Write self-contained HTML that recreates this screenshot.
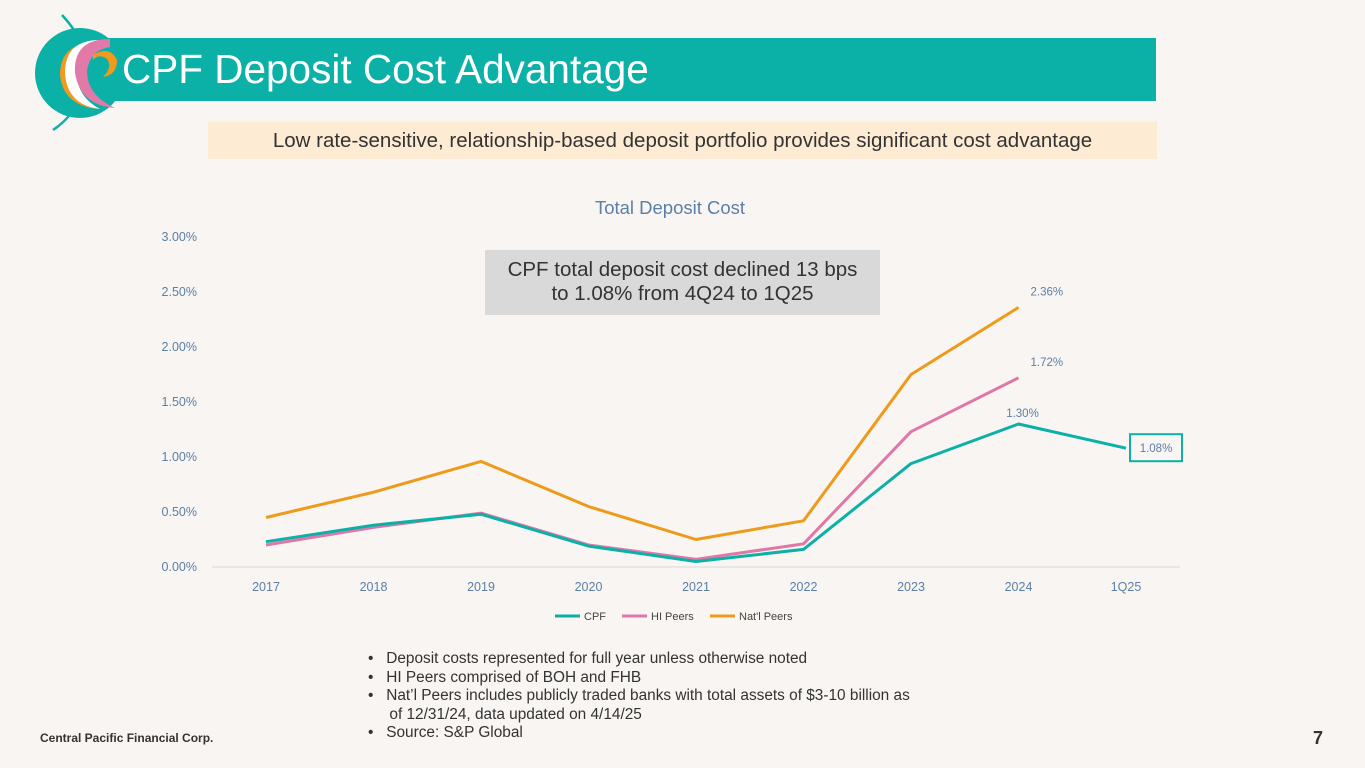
<!DOCTYPE html>
<html><head><meta charset="utf-8"><style>
body{margin:0;width:1365px;height:768px;background:#F8F5F2;font-family:"Liberation Sans",sans-serif;position:relative;overflow:hidden}
.abs{position:absolute}
</style></head><body>
<div class="abs" style="left:70px;top:38px;width:1086px;height:63px;background:#0BB0A7"></div>
<svg class="abs" style="left:25px;top:5px" width="110" height="130" viewBox="0 0 110 130">
<path d="M37 10 Q60 35 55 50" stroke="#0BB0A7" stroke-width="2.5" fill="none"/>
<path d="M55 90 Q50 110 28 125" stroke="#0BB0A7" stroke-width="2.5" fill="none"/>
<circle cx="55" cy="68" r="45" fill="#0BB0A7"/>
<path d="M70 38 Q35 38 35 70 Q38 100 72 104 Q45 95 45 70 Q47 45 70 38Z" fill="#F29A1E"/>
<path d="M75 35 Q40 35 40 68 Q42 100 75 104 Q52 92 52 68 Q55 42 75 35Z" fill="#fff"/>
<path d="M85 34 Q48 34 50 68 Q55 100 90 103 Q62 90 62 66 Q65 45 85 42Z" fill="#E17AA8"/>
<path d="M68 50 Q85 40 92 55 Q92 70 78 72 Q88 62 82 54 Q74 48 68 55Z" fill="#F29A1E"/>
<circle cx="72" cy="60" r="6" fill="#0BB0A7"/>
</svg>
<div class="abs" style="left:122px;top:44px;font-size:40.5px;color:#fff;line-height:50px">CPF Deposit Cost Advantage</div>
<div class="abs" style="left:208px;top:122px;width:949px;height:37px;background:#FDEBD3;color:#333;font-size:20.5px;line-height:37px;text-align:center;white-space:nowrap">Low rate-sensitive, relationship-based deposit portfolio provides significant cost advantage</div>
<svg class="abs" style="left:0;top:0" width="1365" height="768" id="chart"></svg>
<div class="abs" style="left:485px;top:250px;width:395px;height:65px;background:#D9D9D9;color:#333;font-size:20.5px;text-align:center;line-height:24px;padding-top:8px;box-sizing:border-box;white-space:nowrap">CPF total deposit cost declined 13 bps<br>to 1.08% from 4Q24 to 1Q25</div>
<div class="abs" style="left:368px;top:650px;font-size:15.4px;color:#333;line-height:18.6px;white-space:nowrap">
<div>•&nbsp;&nbsp; Deposit costs represented for full year unless otherwise noted</div>
<div>•&nbsp;&nbsp; HI Peers comprised of BOH and FHB</div>
<div>•&nbsp;&nbsp; Nat’l Peers includes publicly traded banks with total assets of $3-10 billion as<br>&nbsp;&nbsp;&nbsp;&nbsp; of 12/31/24, data updated on 4/14/25</div>
<div>•&nbsp;&nbsp; Source: S&amp;P Global</div></div>
<div class="abs" style="left:40px;top:731px;font-size:12px;font-weight:bold;color:#333">Central Pacific Financial Corp.</div>
<div class="abs" style="left:1313px;top:728px;font-size:18px;font-weight:bold;color:#333">7</div>
<script>
const categories=["2017","2018","2019","2020","2021","2022","2023","2024","1Q25"];
const cpf=[0.23,0.38,0.48,0.19,0.05,0.16,0.94,1.30,1.08];
const hiPeers=[0.20,0.36,0.49,0.20,0.07,0.21,1.23,1.72,null];
const natPeers=[0.45,0.68,0.96,0.55,0.25,0.42,1.75,2.36,null];
const yTicks=[0,0.5,1,1.5,2,2.5,3];
const NS="http://www.w3.org/2000/svg",svg=document.getElementById('chart');
const x=i=>266+i*107.5, y=v=>567-v*110;
function mk(t,a,p){const e=document.createElementNS(NS,t);for(const k in a)e.setAttribute(k,a[k]);(p||svg).appendChild(e);return e;}
const tc="#5B7FA6";
const tt=mk('text',{x:670,y:214,'text-anchor':'middle','font-size':18.5,fill:tc});tt.textContent="Total Deposit Cost";


const ax=mk('line',{x1:212,x2:1180,y1:567,y2:567,stroke:'#D9D9D9','stroke-width':1});


yTicks.forEach(v=>{const t=mk('text',{x:197,y:y(v)+4,'text-anchor':'end','font-size':12.5,fill:tc});t.textContent=v.toFixed(2)+"%";

});
categories.forEach((c,i)=>{const t=mk('text',{x:x(i),y:591,'text-anchor':'middle','font-size':12.5,fill:tc});t.textContent=c;

});
function series(d,col,name){let p="";d.forEach((v,i)=>{if(v==null)return;p+=(p?"L":"M")+x(i)+" "+y(v);});
const l=mk('path',{d:p,fill:'none',stroke:col,'stroke-width':3,'stroke-linejoin':'round'});

}
series(natPeers,'#EE9A1A','natl-peers');series(hiPeers,'#DE78A8','hi-peers');series(cpf,'#0BB0A7','cpf');
function lab(v,i,name){const t=mk('text',{x:x(i)+12,y:y(v)-12,'font-size':11.5,fill:tc});t.textContent=v.toFixed(2)+"%";

}
lab(natPeers[7],7,'natl-peers');lab(hiPeers[7],7,'hi-peers');
const t4=mk('text',{x:x(7)+4,y:y(cpf[7])-7,'font-size':11.5,fill:tc,'text-anchor':'middle'});t4.textContent=cpf[7].toFixed(2)+"%";


const b=mk('rect',{x:x(8)+4,y:y(cpf[8])-14,width:52,height:27,fill:'#F8F5F2',stroke:'#0BB0A7','stroke-width':2});


const t5=mk('text',{x:x(8)+30,y:y(cpf[8])+4,'font-size':11.5,fill:tc,'text-anchor':'middle'});t5.textContent=cpf[8].toFixed(2)+"%";


[["CPF",555,'#0BB0A7'],["HI Peers",622,'#DE78A8'],["Nat'l Peers",710,'#EE9A1A']].forEach(([n,lx,c])=>{
const g=mk('g',{});


mk('line',{x1:lx,x2:lx+25,y1:616,y2:616,stroke:c,'stroke-width':3},g);
const t=mk('text',{x:lx+29,y:620,'font-size':11,fill:'#444'},g);t.textContent=n;});
</script>
</body></html>
